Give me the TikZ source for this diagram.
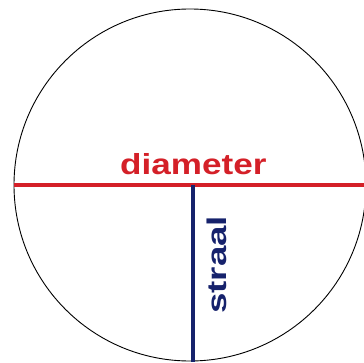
\documentclass[tikz,border=0pt]{standalone}
\usepackage{fontspec}
\setmainfont{Liberation Sans}
\definecolor{diared}{RGB}{212,32,40}
\definecolor{straalblue}{RGB}{22,34,108}
\begin{document}
\begin{tikzpicture}[x=1pt,y=1pt,
  rim/.style={circle,draw=black,line width=0.9pt,minimum size=352pt,inner sep=0pt},
  redline/.style={draw=diared,line width=4.5pt},
  blueline/.style={draw=straalblue,line width=4.5pt},
  lbl/.style={inner sep=0pt,font=\bfseries}]
\useasboundingbox (0,0) rectangle (364,362);
\node[rim] (c) at (190,177) {};
\coordinate (mid) at (193,177);
\coordinate (bot) at (193,0);
\draw[redline] (c.west) -- (c.east);
\draw[blueline] (mid) -- (bot);
\node[lbl,text=diared,anchor=base west] (dia) at (120,188)
  {\scalebox{1.21}[1]{\fontsize{29}{29}\selectfont diameter}};
\node[lbl,text=straalblue,anchor=base west,rotate=90] (str) at (226,48)
  {\scalebox{1.36}[1]{\fontsize{27}{27}\selectfont straal}};
\end{tikzpicture}
\end{document}
